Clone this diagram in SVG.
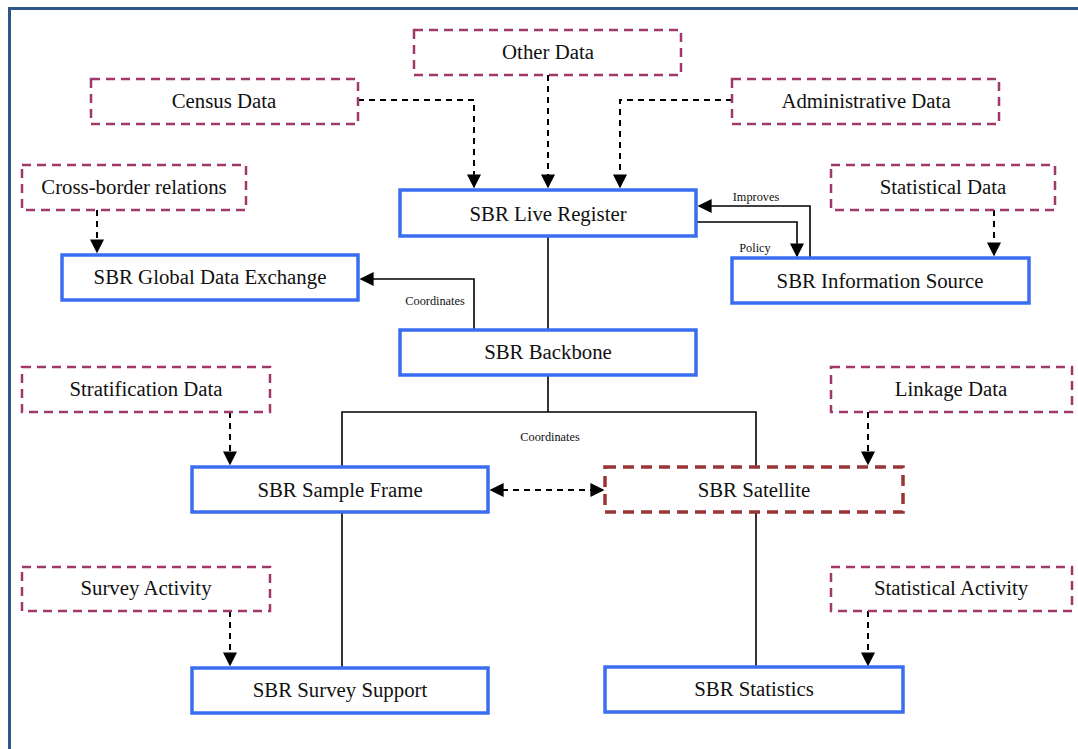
<svg xmlns="http://www.w3.org/2000/svg" width="1078" height="749" viewBox="0 0 1078 749" font-family="'Liberation Serif', 'Times New Roman', 'DejaVu Serif', serif">
<style>
.src rect{fill:#fff;stroke:#a0386c;stroke-width:2.5;stroke-dasharray:9,6}
.sbr rect{fill:#fff;stroke:#3a6df0;stroke-width:3.5}
.sat rect{fill:#fff;stroke:#9b3535;stroke-width:3.5;stroke-dasharray:11,7}
text{fill:#111}
.lbl{font-size:20.8px;text-anchor:middle}
.sm{font-size:12.3px;text-anchor:middle}
#connectors path{fill:none;stroke:#000;stroke-width:1.6}
#connectors .d{stroke-dasharray:6,5;stroke-width:2}
</style>
<defs>
<marker id="ah2" viewBox="0 0 10 10" refX="9" refY="5" markerWidth="14" markerHeight="14" markerUnits="userSpaceOnUse" orient="auto-start-reverse">
<path d="M0,0 L10,5 L0,10 z" fill="#000"/>
</marker>
</defs>
<rect x="0" y="0" width="1078" height="749" fill="#fff"/>
<rect x="9.5" y="8.5" width="1100" height="800" fill="none" stroke="#2c5687" stroke-width="3"/>

<g id="connectors">
<path class="d" d="M358,100 H474 V187" marker-end="url(#ah2)"/>
<path class="d" d="M548,75 V187" marker-end="url(#ah2)"/>
<path class="d" d="M732,100 H620 V187" marker-end="url(#ah2)"/>
<path class="d" d="M97,210 V252" marker-end="url(#ah2)"/>
<path class="d" d="M994,210 V255" marker-end="url(#ah2)"/>
<path d="M810,258 V206 H699" marker-end="url(#ah2)"/>
<path d="M696,222 H797 V256" marker-end="url(#ah2)"/>
<path d="M548,236 V330"/>
<path d="M474,330 V279 H361" marker-end="url(#ah2)"/>
<path d="M548,375 V412 M342,467 V412 H756 V467"/>
<path class="d" d="M491,490 H603" marker-start="url(#ah2)" marker-end="url(#ah2)"/>
<path class="d" d="M230,412 V464" marker-end="url(#ah2)"/>
<path class="d" d="M868,412 V464" marker-end="url(#ah2)"/>
<path d="M342,512 V668"/>
<path d="M756,512 V667"/>
<path class="d" d="M230,611 V665" marker-end="url(#ah2)"/>
<path class="d" d="M868,611 V665" marker-end="url(#ah2)"/>
<text class="sm" x="756" y="201">Improves</text>
<text class="sm" x="755" y="252">Policy</text>
<text class="sm" x="435" y="305">Coordinates</text>
<text class="sm" x="550" y="441">Coordinates</text>
</g>

<g id="other-data" class="src"><rect x="414" y="30" width="267" height="45"/><text class="lbl" x="548" y="59">Other Data</text></g>
<g id="census-data" class="src"><rect x="91" y="79" width="267" height="45"/><text class="lbl" x="224" y="108">Census Data</text></g>
<g id="administrative-data" class="src"><rect x="732" y="79" width="267" height="45"/><text class="lbl" x="866" y="108">Administrative Data</text></g>
<g id="cross-border" class="src"><rect x="22" y="165" width="224" height="45"/><text class="lbl" x="134" y="194">Cross-border relations</text></g>
<g id="statistical-data" class="src"><rect x="831" y="165" width="224" height="45"/><text class="lbl" x="943" y="194">Statistical Data</text></g>
<g id="live-register" class="sbr"><rect x="400" y="190" width="296" height="46"/><text class="lbl" x="548" y="221">SBR Live Register</text></g>
<g id="global-data-exchange" class="sbr"><rect x="62" y="255" width="296" height="45"/><text class="lbl" x="210" y="284">SBR Global Data Exchange</text></g>
<g id="information-source" class="sbr"><rect x="732" y="258" width="297" height="45"/><text class="lbl" x="880" y="288">SBR Information Source</text></g>
<g id="backbone" class="sbr"><rect x="400" y="330" width="296" height="45"/><text class="lbl" x="548" y="359">SBR Backbone</text></g>
<g id="stratification-data" class="src"><rect x="22" y="367" width="248" height="45"/><text class="lbl" x="146" y="396">Stratification Data</text></g>
<g id="linkage-data" class="src"><rect x="831" y="367" width="241" height="45"/><text class="lbl" x="951" y="396">Linkage Data</text></g>
<g id="sample-frame" class="sbr"><rect x="192" y="467" width="296" height="45"/><text class="lbl" x="340" y="497">SBR Sample Frame</text></g>
<g id="satellite" class="sat"><rect x="605" y="467" width="298" height="45"/><text class="lbl" x="754" y="497">SBR Satellite</text></g>
<g id="survey-activity" class="src"><rect x="22" y="567" width="248" height="44"/><text class="lbl" x="146" y="595">Survey Activity</text></g>
<g id="statistical-activity" class="src"><rect x="831" y="567" width="241" height="44"/><text class="lbl" x="951" y="595">Statistical Activity</text></g>
<g id="survey-support" class="sbr"><rect x="192" y="668" width="296" height="45"/><text class="lbl" x="340" y="697">SBR Survey Support</text></g>
<g id="statistics" class="sbr"><rect x="605" y="667" width="298" height="45"/><text class="lbl" x="754" y="696">SBR Statistics</text></g>
</svg>
